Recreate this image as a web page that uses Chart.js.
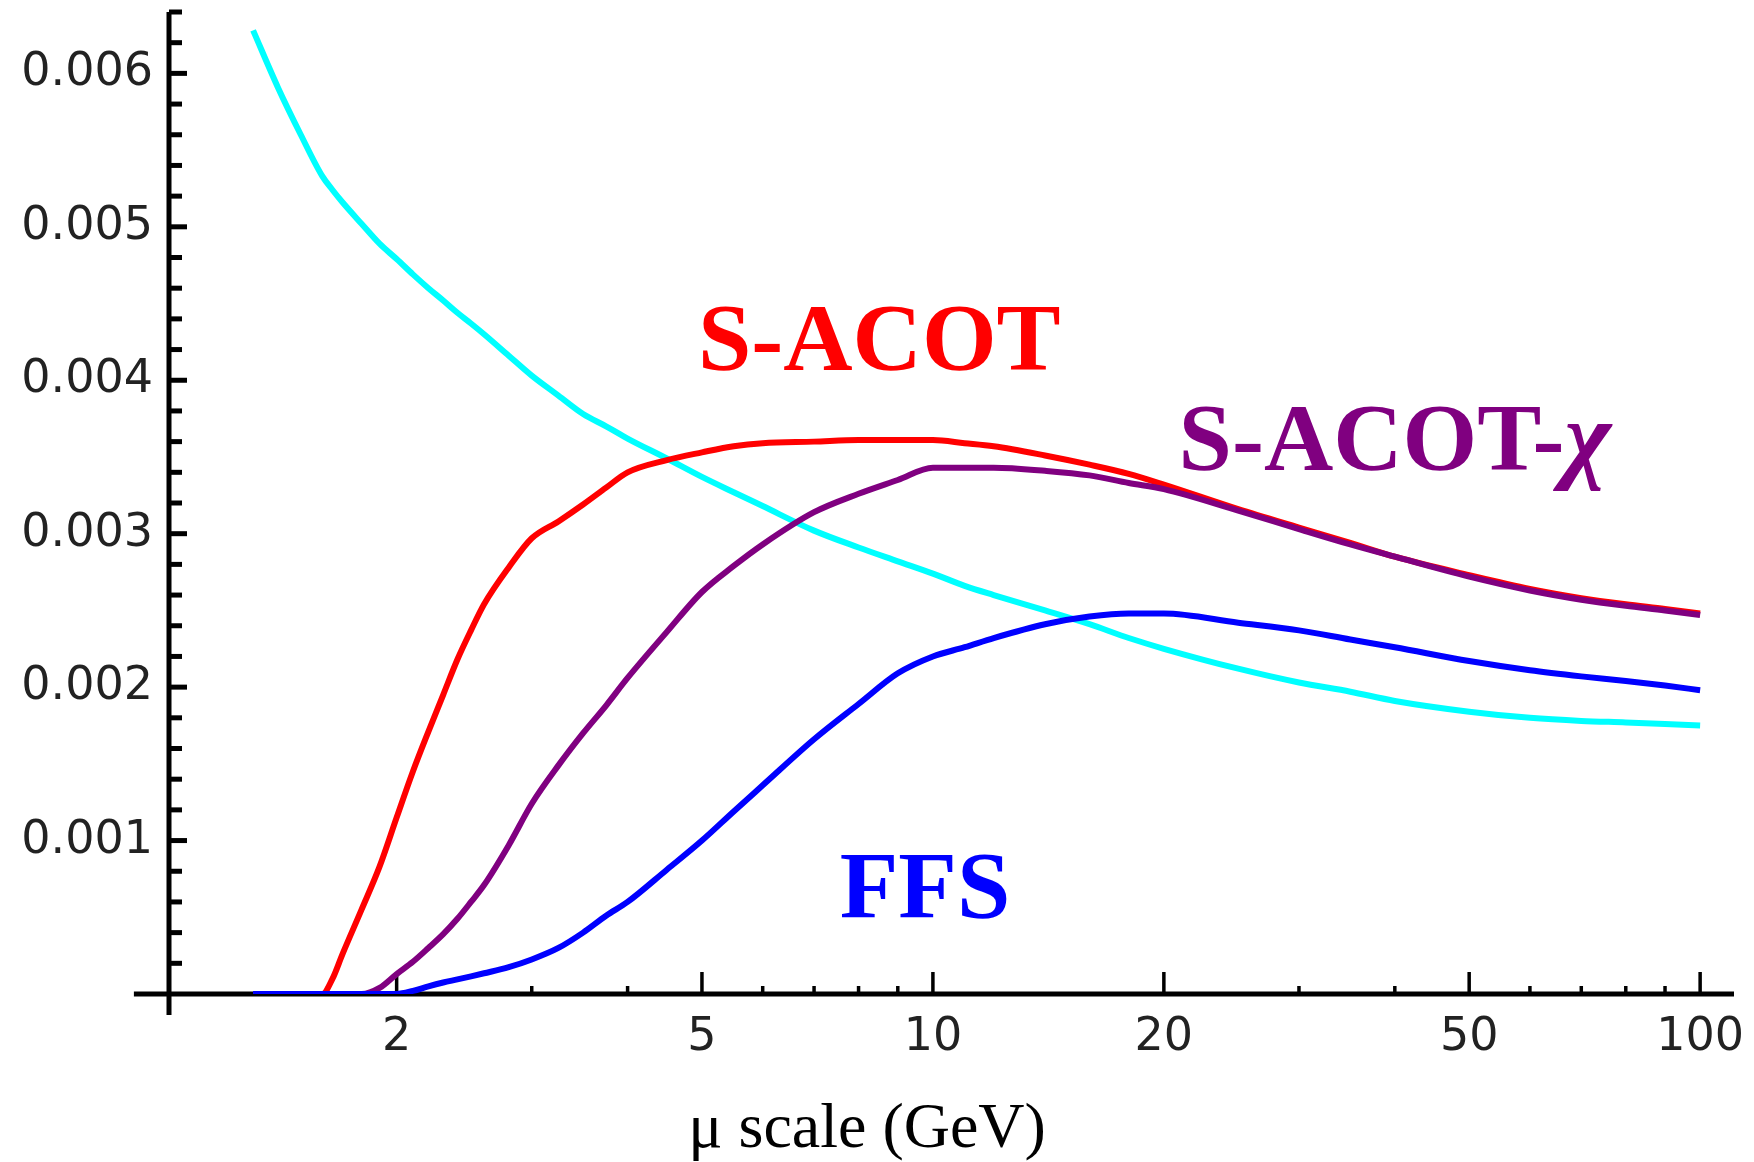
<!DOCTYPE html>
<html>
<head>
<meta charset="utf-8">
<script src="https://cdn.jsdelivr.net/npm/chart.js@4.4.1/dist/chart.umd.min.js"></script>
<style>
  html, body { margin: 0; padding: 0; background: #fff; }
  #wrap { width: 1754px; height: 1162px; }
</style>
</head>
<body>
<div id="wrap"><canvas id="plot"></canvas></div>
<script>
// mu scale (GeV)
const muValues = [1.3, 1.4, 1.5, 1.6, 1.65, 1.7, 1.8, 1.9, 2, 2.1, 2.2, 2.3, 2.4, 2.5, 2.6, 2.8, 3, 3.25, 3.5, 3.75,
  4, 4.5, 5, 5.5, 6, 7, 8, 9, 10, 11, 12, 14, 16, 18, 20, 25, 30, 35, 40, 50, 60, 70, 80, 90, 100];

const cyanCurve = [0.00628, 0.00591, 0.00560, 0.00533, 0.00524, 0.00516, 0.00502, 0.00489, 0.00479, 0.00469, 0.00460,
  0.00452, 0.00444, 0.00437, 0.00430, 0.00416, 0.00403, 0.00390, 0.00378, 0.00370, 0.00362, 0.00349, 0.00337, 0.00327,
  0.00318, 0.00302, 0.00291, 0.00282, 0.00274, 0.00266, 0.00260, 0.00250, 0.00241, 0.00232, 0.00225, 0.00212, 0.00203,
  0.00197, 0.00191, 0.00184, 0.00180, 0.00178, 0.00177, 0.00176, 0.00175];

const sacot = [0, 0, 0, 0, 0.00010, 0.00026, 0.00055, 0.00083, 0.00115, 0.00145, 0.00171, 0.00195, 0.00218, 0.00237,
  0.00254, 0.00278, 0.00297, 0.00308, 0.00319, 0.00330, 0.00340, 0.00348, 0.00353, 0.00357, 0.00359, 0.00360, 0.00361,
  0.00361, 0.00361, 0.00359, 0.00357, 0.00351, 0.00345, 0.00339, 0.00332, 0.00316, 0.00304, 0.00294, 0.00285, 0.00273,
  0.00264, 0.00258, 0.00254, 0.00251, 0.00248];

const sacotChi = [0, 0, 0, 0, 0, 0, 0, 0.00004, 0.00013, 0.00021, 0.00030, 0.00039, 0.00049, 0.00060, 0.00071, 0.00097,
  0.00124, 0.00149, 0.00170, 0.00188, 0.00206, 0.00236, 0.00262, 0.00279, 0.00293, 0.00314, 0.00326, 0.00335, 0.00343,
  0.00343, 0.00343, 0.00341, 0.00338, 0.00333, 0.00329, 0.00315, 0.00303, 0.00293, 0.00285, 0.00272, 0.00263, 0.00257,
  0.00253, 0.00250, 0.00247];

const ffs = [0, 0, 0, 0, 0, 0, 0, 0, 0, 0.00002, 0.00005, 0.000075, 0.000095, 0.000115, 0.000135, 0.000175, 0.000225,
  0.00030, 0.00040, 0.00051, 0.00060, 0.00081, 0.00100, 0.00119, 0.00136, 0.00166, 0.00189, 0.00209, 0.00220, 0.00226,
  0.00232, 0.00241, 0.00246, 0.00248, 0.00248, 0.00242, 0.00237, 0.00231, 0.00226, 0.00217, 0.00211, 0.00207, 0.00204,
  0.00201, 0.00198];

const xTickValues = [2, 5, 10, 20, 50, 100];
const xMinorTicks = [3, 4, 6, 7, 8, 9, 30, 40, 60, 70, 80, 90];
const yTickValues = [0.001, 0.002, 0.003, 0.004, 0.005, 0.006];

function pts(ys) {
  return muValues.map((m, i) => ({ x: m, y: ys[i] }));
}

// Mathematica-like axes crossing at (1.01, 0), ticks pointing inward
const mmaAxes = {
  id: 'mmaAxes',
  beforeDatasetsDraw(chart) {
    const ctx = chart.ctx;
    const xs = chart.scales.x, ys = chart.scales.y;
    const x0 = xs.getPixelForValue(1.01);
    const y0 = ys.getPixelForValue(0);
    ctx.save();
    ctx.strokeStyle = '#000';
    ctx.lineCap = 'butt';

    // y ticks every 0.0002, longer at 0.001 steps
    ctx.lineWidth = 5;
    for (let k = 1; k <= 32; k++) {
      const py = ys.getPixelForValue(k * 0.0002);
      const len = (k % 5 === 0) ? 18 : 13;
      ctx.beginPath();
      ctx.moveTo(x0, py);
      ctx.lineTo(x0 + len, py);
      ctx.stroke();
    }

    ctx.lineWidth = 3.5;
    xTickValues.forEach(v => {
      const px = xs.getPixelForValue(v);
      ctx.beginPath();
      ctx.moveTo(px, y0);
      ctx.lineTo(px, y0 - 22);
      ctx.stroke();
    });
    xMinorTicks.forEach(v => {
      const px = xs.getPixelForValue(v);
      ctx.beginPath();
      ctx.moveTo(px, y0);
      ctx.lineTo(px, y0 - 8);
      ctx.stroke();
    });

    ctx.lineWidth = 5;
    ctx.beginPath();
    ctx.moveTo(xs.getPixelForValue(0.909), y0);
    ctx.lineTo(xs.getPixelForValue(110.7), y0);
    ctx.stroke();
    ctx.beginPath();
    ctx.moveTo(x0, ys.getPixelForValue(0.0064));
    ctx.lineTo(x0, ys.getPixelForValue(-0.000137));
    ctx.stroke();
    ctx.restore();
  }
};

// curve names written inside the plot
const curveNames = {
  id: 'curveNames',
  afterDatasetsDraw(chart) {
    const ctx = chart.ctx;
    const xs = chart.scales.x, ys = chart.scales.y;
    const serif = '"Liberation Serif", "Times New Roman", serif';
    ctx.save();
    ctx.font = 'bold 96px ' + serif;
    ctx.textAlign = 'left';
    ctx.textBaseline = 'alphabetic';
    ctx.fillStyle = '#ff0000';
    ctx.fillText('S-ACOT', xs.getPixelForValue(4.94), ys.getPixelForValue(0.00407));

    ctx.fillStyle = '#800080';
    const px = xs.getPixelForValue(20.9), py = ys.getPixelForValue(0.003416);
    ctx.fillText('S-ACOT-', px, py);
    const w = ctx.measureText('S-ACOT-').width;
    ctx.font = 'italic bold 100px ' + serif;
    ctx.fillText('χ', px + w, py);

    ctx.font = 'bold 96px ' + serif;
    ctx.fillStyle = '#0000ff';
    ctx.fillText('FFS', xs.getPixelForValue(7.56), ys.getPixelForValue(0.000495));
    ctx.restore();
  }
};

const lineStyle = {
  borderWidth: 6,
  pointRadius: 0,
  fill: false,
  cubicInterpolationMode: 'monotone'
};

new Chart(document.getElementById('plot'), {
  type: 'line',
  data: {
    datasets: [
      Object.assign({ label: 'FFS', data: pts(ffs), borderColor: '#0000ff' }, lineStyle),
      Object.assign({ label: 'S-ACOT-chi', data: pts(sacotChi), borderColor: '#800080' }, lineStyle),
      Object.assign({ label: 'S-ACOT', data: pts(sacot), borderColor: '#ff0000' }, lineStyle),
      Object.assign({ label: 'massless', data: pts(cyanCurve), borderColor: '#00ffff' }, lineStyle)
    ]
  },
  options: {
    responsive: true,
    maintainAspectRatio: false,
    animation: false,
    layout: { padding: { left: 0, top: 12, right: 20, bottom: 0 } },
    scales: {
      x: {
        type: 'logarithmic',
        min: 1.01,
        max: 110.7,
        border: { display: false },
        grid: { display: false, drawTicks: false },
        afterBuildTicks: scale => { scale.ticks = xTickValues.map(v => ({ value: v })); },
        afterFit: scale => { scale.height = 104; scale.paddingLeft = 0; scale.paddingRight = 0; },
        ticks: {
          autoSkip: false,
          maxRotation: 0,
          padding: 16,
          color: '#222',
          font: { family: '"DejaVu Sans"', size: 46 },
          callback: v => String(v)
        }
      },
      y: {
        min: 0,
        max: 0.0064,
        border: { display: false },
        grid: { display: false, drawTicks: false },
        afterBuildTicks: scale => { scale.ticks = yTickValues.map(v => ({ value: v })); },
        afterFit: scale => { scale.width = 169; scale.paddingTop = 0; scale.paddingBottom = 0; },
        ticks: {
          autoSkip: false,
          padding: 16,
          color: '#222',
          font: { family: '"DejaVu Sans"', size: 46 },
          callback: v => v.toFixed(3)
        }
      }
    },
    plugins: {
      legend: { display: false },
      tooltip: { enabled: false },
      title: {
        display: true,
        position: 'bottom',
        text: 'μ scale (GeV)',
        color: '#000',
        padding: 0,
        font: { family: '"Liberation Serif", "Times New Roman", serif', size: 64, weight: 'normal', lineHeight: 1 }
      }
    }
  },
  plugins: [mmaAxes, curveNames]
});
</script>
</body>
</html>
